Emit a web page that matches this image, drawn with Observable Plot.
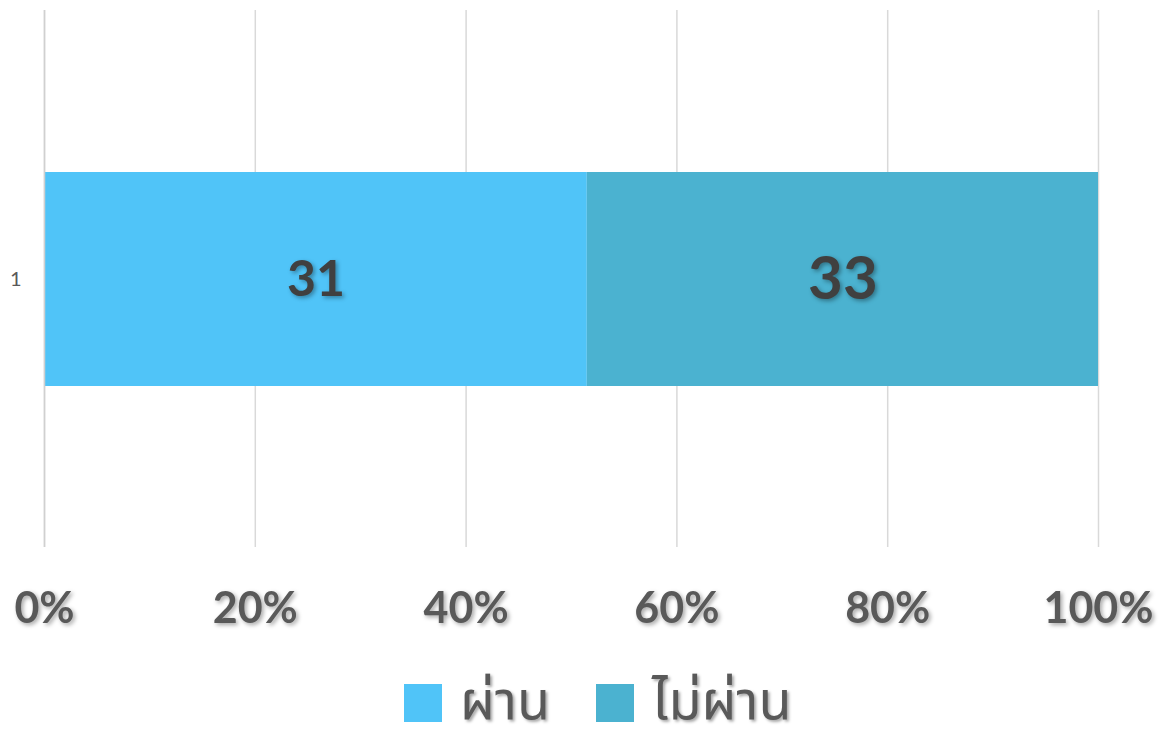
<!DOCTYPE html>
<html>
<head>
<meta charset="utf-8">
<script src="https://cdn.jsdelivr.net/npm/d3@7"></script>
<script src="https://cdn.jsdelivr.net/npm/@observablehq/plot@0.6"></script>
<style>
  html, body { margin: 0; padding: 0; background: #fff; width: 1159px; height: 731px; overflow: hidden; }
  #chart { position: absolute; left: 0; top: 0; }
  .legend { position: absolute; left: 404px; top: 678px; height: 50px; display: flex; align-items: center;
    font-family: "Noto Sans Thai", "Noto Sans", Lato, sans-serif; font-size: 54px; line-height: 50px; color: #595959;
    text-shadow: 2px 2px 3px rgba(0,0,0,0.35); }
  .legend .item { display: flex; align-items: center; margin-right: 46px; height: 50px; }
  .legend .sw { width: 38px; height: 38px; margin-right: 18px; position: relative; top: 0px; }
  .legend .lab { display: inline-block; height: 50px; line-height: 50px; }
</style>
</head>
<body>
<div id="chart"></div>
<div class="legend" id="legend"></div>
<script>
// Data
const categories = ["1"];
const seriesNames = ["ผ่าน", "ไม่ผ่าน"];
const seriesLabels = ["31", "33"];          // data labels shown on bars
const seriesShares = [51.5, 48.5];          // visible share of the 100% bar (%)
const labelSizes = [50, 60];
const seriesColors = ["#50C4F8", "#4BB2D0"];
const xTicks = [0, 20, 40, 60, 80, 100];

const rows = seriesNames.map((s, i) => ({
  cat: categories[0], series: s, share: seriesShares[i], label: seriesLabels[i], size: labelSizes[i]
}));

const W = 1159, H = 668;
const shadow = "drop-shadow(2px 2px 2px rgba(0,0,0,0.35))";

const chart = Plot.plot({
  width: W,
  height: H,
  marginLeft: 44,
  marginRight: 61,
  marginTop: 10,
  marginBottom: H - 547,
  style: { fontFamily: "Lato, 'Open Sans', sans-serif", background: "#fff" },
  x: { domain: [0, 100] },
  y: { domain: categories, padding: 0.43 },
  color: { domain: seriesNames, range: seriesColors },
  marks: [
    Plot.gridX(xTicks, { stroke: "#D9D9D9", strokeOpacity: 1, strokeWidth: 1.5 }),
    Plot.barX(rows, Plot.stackX({ x: "share", y: "cat", fill: "series", order: seriesNames })),
    Plot.ruleX([0], { stroke: "#D0D0D0", strokeWidth: 1.5 }),
    Plot.text(rows, Plot.stackX({
      x: "share", y: "cat", z: "series", order: seriesNames, text: d => d.size === labelSizes[0] ? d.label : "",
      fontSize: labelSizes[0], fontWeight: "bold", fill: "#404040"
    })),
    Plot.text(rows, Plot.stackX({
      x: "share", y: "cat", z: "series", order: seriesNames, text: d => d.size === labelSizes[1] ? d.label : "",
      fontSize: labelSizes[1], fontWeight: "bold", fill: "#404040"
    })),
    Plot.axisX(xTicks, {
      tickSize: 0, tickPadding: 45, fontSize: 43, fontWeight: "bold", fill: "#595959",
      tickFormat: d => d + "%", label: null
    }),
    Plot.axisY({ tickSize: 0, tickPadding: 23, fontSize: 20, fill: "#595959", label: null })
  ]
});

// drop shadows on texts
chart.querySelectorAll("g[aria-label='text'] text, g[aria-label='x-axis tick label'] text").forEach(t => {
  t.style.filter = shadow;
});
document.getElementById("chart").appendChild(chart);

const legend = document.getElementById("legend");
seriesNames.forEach((s, i) => {
  const item = document.createElement("div");
  item.className = "item";
  const sw = document.createElement("div");
  sw.className = "sw";
  sw.style.background = seriesColors[i];
  const lab = document.createElement("span");
  lab.className = "lab";
  lab.textContent = s;
  item.appendChild(sw);
  item.appendChild(lab);
  legend.appendChild(item);
});
</script>
</body>
</html>
